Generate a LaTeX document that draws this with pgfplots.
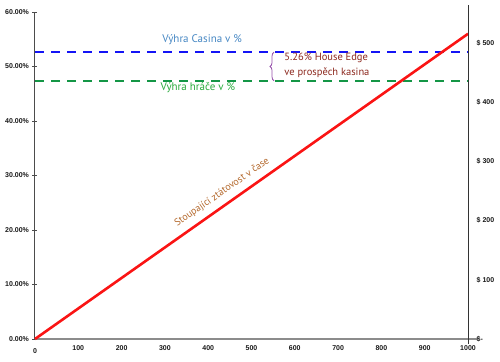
\documentclass[border=0pt]{standalone}
\usepackage{pgfplots}
\pgfplotsset{compat=1.18}
\usepackage{fontspec}
\setmainfont{PT Sans}
\newfontfamily\tickfont{Liberation Sans}
\usetikzlibrary{decorations.pathreplacing}
\definecolor{cblue}{RGB}{20,20,245}
\definecolor{cgreen}{RGB}{20,150,70}
\definecolor{cred}{RGB}{250,20,20}
\definecolor{tblue}{RGB}{70,135,195}
\definecolor{tgreen}{RGB}{40,170,60}
\definecolor{tbrown}{RGB}{140,40,30}
\definecolor{torange}{RGB}{180,105,45}
\definecolor{cpurple}{RGB}{150,80,170}
\begin{document}
\begin{tikzpicture}
\begin{axis}[
  scale only axis, width=433pt, height=327pt,
  xmin=0, xmax=1000, ymin=0, ymax=60,
  axis x line=bottom, axis y line=left,
  x axis line style={-, draw=black!45, line width=1.2pt, shorten >=-10pt},
  y axis line style={-, draw=black!70, line width=1pt},
  xtick={0,100,...,1000},
  xticklabels={\raisebox{-7pt}{0},100,200,300,400,500,600,700,800,900,1000},
  ytick={0,10,...,60},
  yticklabels={0.00\%,10.00\%,20.00\%,30.00\%,40.00\%,50.00\%,60.00\%},
  xtick style={draw=none},
  ytick style={draw=black!70, line width=0.8pt},
  tick align=center, major tick length=5pt,
  ticklabel style={font=\tickfont\bfseries\fontsize{7}{8}\selectfont, text=black!90},
  xticklabel style={yshift=-1pt},
  clip=false,
]
\addplot[cblue, line width=2.6pt, dash pattern=on 9pt off 7pt] coordinates {(0,52.63) (1000,52.63)};
\addplot[cgreen, line width=2.6pt, dash pattern=on 9pt off 7pt] coordinates {(0,47.37) (1000,47.37)};
\addplot[cred, line width=2.6pt] coordinates {(0,0) (1000,56)};
\node[text=tblue, font=\fontsize{11}{13}\selectfont] at (axis cs:386,54.9) {Výhra Casina v \%};
\node[text=tgreen, font=\fontsize{11}{13}\selectfont] at (axis cs:376,46.2) {Výhra hráče v \%};
\draw[cpurple, line width=0.8pt, decorate, decoration={brace, amplitude=4pt}] (axis cs:552,47.37) -- (axis cs:552,52.63);
\node[text=tbrown, anchor=west, align=left, font=\fontsize{10.5}{14.5}\selectfont] at (axis cs:568,50.2) {5.26\% House Edge\\ve prospěch kasina};
\node[text=torange, rotate=35, font=\fontsize{10}{12}\selectfont] at (axis cs:432,26.9) {Stoupající ztátovost v čase};
\end{axis}
\begin{axis}[
  scale only axis, width=433pt, height=327pt,
  xmin=0, xmax=1000, ymin=0, ymax=552,
  axis x line=none, axis y line=right,
  y axis line style={-, draw=black!80, line width=0.9pt, shorten >=-7pt, shorten <=-5pt},
  ytick={0,100,...,500},
  yticklabels={\$-,\$ 100,\$ 200,\$ 300,\$ 400,\$ 500},
  ytick style={draw=none},
  yticklabel style={font=\tickfont\bfseries\fontsize{7}{8}\selectfont, text=black!90, xshift=3pt},
]
\end{axis}
\pgfresetboundingbox
\path[use as bounding box] (-35pt,-22pt) rectangle (465pt,339pt);
\end{tikzpicture}
\end{document}
